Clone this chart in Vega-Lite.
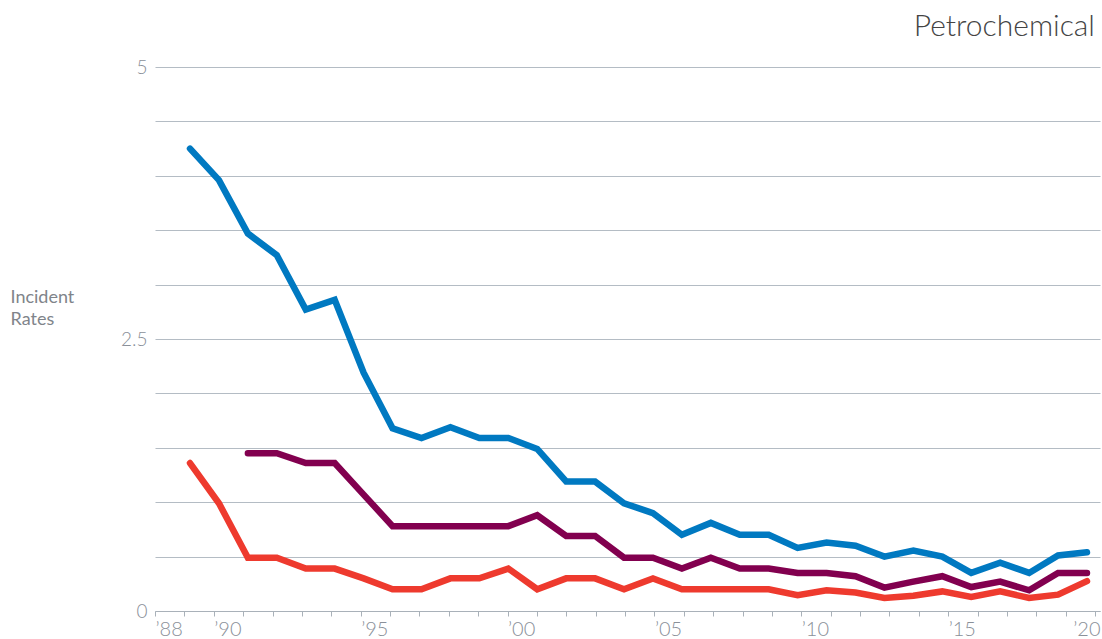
{
  "$schema": "https://vega.github.io/schema/vega-lite/v6.json",
  "width": 945,
  "height": 544,
  "autosize": {"type": "none"},
  "padding": {"left": 155, "top": 67, "right": 2, "bottom": 28},
  "background": "white",
  "config": {"view": {"stroke": null}, "font": "Lato"},
  "title": {"text": "Petrochemical", "anchor": "end", "orient": "top", "frame": "group", "fontSize": 30, "font": "Lato", "fontWeight": 300, "color": "#444444", "baseline": "bottom", "offset": 20, "dy": 34, "dx": -5},
  "data": {"values": [
    {"year": 1989, "series": "Total", "value": 4.25},
    {"year": 1990, "series": "Total", "value": 3.96},
    {"year": 1991, "series": "Total", "value": 3.47},
    {"year": 1992, "series": "Total", "value": 3.27},
    {"year": 1993, "series": "Total", "value": 2.77},
    {"year": 1994, "series": "Total", "value": 2.86},
    {"year": 1995, "series": "Total", "value": 2.19},
    {"year": 1996, "series": "Total", "value": 1.68},
    {"year": 1997, "series": "Total", "value": 1.59},
    {"year": 1998, "series": "Total", "value": 1.69},
    {"year": 1999, "series": "Total", "value": 1.59},
    {"year": 2000, "series": "Total", "value": 1.59},
    {"year": 2001, "series": "Total", "value": 1.49},
    {"year": 2002, "series": "Total", "value": 1.19},
    {"year": 2003, "series": "Total", "value": 1.19},
    {"year": 2004, "series": "Total", "value": 0.99},
    {"year": 2005, "series": "Total", "value": 0.9},
    {"year": 2006, "series": "Total", "value": 0.7},
    {"year": 2007, "series": "Total", "value": 0.81},
    {"year": 2008, "series": "Total", "value": 0.7},
    {"year": 2009, "series": "Total", "value": 0.7},
    {"year": 2010, "series": "Total", "value": 0.58},
    {"year": 2011, "series": "Total", "value": 0.63},
    {"year": 2012, "series": "Total", "value": 0.6},
    {"year": 2013, "series": "Total", "value": 0.5},
    {"year": 2014, "series": "Total", "value": 0.555},
    {"year": 2015, "series": "Total", "value": 0.5},
    {"year": 2016, "series": "Total", "value": 0.35},
    {"year": 2017, "series": "Total", "value": 0.445},
    {"year": 2018, "series": "Total", "value": 0.35},
    {"year": 2019, "series": "Total", "value": 0.51},
    {"year": 2020, "series": "Total", "value": 0.54},
    {"year": 1991, "series": "Restricted", "value": 1.45},
    {"year": 1992, "series": "Restricted", "value": 1.45},
    {"year": 1993, "series": "Restricted", "value": 1.36},
    {"year": 1994, "series": "Restricted", "value": 1.36},
    {"year": 1995, "series": "Restricted", "value": 1.07},
    {"year": 1996, "series": "Restricted", "value": 0.78},
    {"year": 1997, "series": "Restricted", "value": 0.78},
    {"year": 1998, "series": "Restricted", "value": 0.78},
    {"year": 1999, "series": "Restricted", "value": 0.78},
    {"year": 2000, "series": "Restricted", "value": 0.78},
    {"year": 2001, "series": "Restricted", "value": 0.88},
    {"year": 2002, "series": "Restricted", "value": 0.69},
    {"year": 2003, "series": "Restricted", "value": 0.69},
    {"year": 2004, "series": "Restricted", "value": 0.49},
    {"year": 2005, "series": "Restricted", "value": 0.49},
    {"year": 2006, "series": "Restricted", "value": 0.39},
    {"year": 2007, "series": "Restricted", "value": 0.49},
    {"year": 2008, "series": "Restricted", "value": 0.39},
    {"year": 2009, "series": "Restricted", "value": 0.39},
    {"year": 2010, "series": "Restricted", "value": 0.35},
    {"year": 2011, "series": "Restricted", "value": 0.35},
    {"year": 2012, "series": "Restricted", "value": 0.32},
    {"year": 2013, "series": "Restricted", "value": 0.215},
    {"year": 2014, "series": "Restricted", "value": 0.27},
    {"year": 2015, "series": "Restricted", "value": 0.32},
    {"year": 2016, "series": "Restricted", "value": 0.22},
    {"year": 2017, "series": "Restricted", "value": 0.27},
    {"year": 2018, "series": "Restricted", "value": 0.19},
    {"year": 2019, "series": "Restricted", "value": 0.35},
    {"year": 2020, "series": "Restricted", "value": 0.35},
    {"year": 1989, "series": "Days Away", "value": 1.36},
    {"year": 1990, "series": "Days Away", "value": 0.99},
    {"year": 1991, "series": "Days Away", "value": 0.49},
    {"year": 1992, "series": "Days Away", "value": 0.49},
    {"year": 1993, "series": "Days Away", "value": 0.39},
    {"year": 1994, "series": "Days Away", "value": 0.39},
    {"year": 1995, "series": "Days Away", "value": 0.3},
    {"year": 1996, "series": "Days Away", "value": 0.2},
    {"year": 1997, "series": "Days Away", "value": 0.2},
    {"year": 1998, "series": "Days Away", "value": 0.3},
    {"year": 1999, "series": "Days Away", "value": 0.3},
    {"year": 2000, "series": "Days Away", "value": 0.39},
    {"year": 2001, "series": "Days Away", "value": 0.2},
    {"year": 2002, "series": "Days Away", "value": 0.3},
    {"year": 2003, "series": "Days Away", "value": 0.3},
    {"year": 2004, "series": "Days Away", "value": 0.2},
    {"year": 2005, "series": "Days Away", "value": 0.3},
    {"year": 2006, "series": "Days Away", "value": 0.2},
    {"year": 2007, "series": "Days Away", "value": 0.2},
    {"year": 2008, "series": "Days Away", "value": 0.2},
    {"year": 2009, "series": "Days Away", "value": 0.2},
    {"year": 2010, "series": "Days Away", "value": 0.145},
    {"year": 2011, "series": "Days Away", "value": 0.19},
    {"year": 2012, "series": "Days Away", "value": 0.17},
    {"year": 2013, "series": "Days Away", "value": 0.12},
    {"year": 2014, "series": "Days Away", "value": 0.14},
    {"year": 2015, "series": "Days Away", "value": 0.18},
    {"year": 2016, "series": "Days Away", "value": 0.13},
    {"year": 2017, "series": "Days Away", "value": 0.18},
    {"year": 2018, "series": "Days Away", "value": 0.12},
    {"year": 2019, "series": "Days Away", "value": 0.15},
    {"year": 2020, "series": "Days Away", "value": 0.275}
  ]},
  "layer": [
    {
      "mark": {"type": "line", "strokeWidth": 6.5, "strokeCap": "round", "strokeJoin": "miter"},
      "encoding": {
        "x": {
          "field": "year", "type": "quantitative",
          "scale": {"domain": [1987.79, 2020.45], "nice": false, "zero": false},
          "axis": null
        },
        "y": {
          "field": "value", "type": "quantitative",
          "scale": {"domain": [0, 5], "nice": false},
          "axis": {
            "values": [0, 0.5, 1, 1.5, 2, 2.5, 3, 3.5, 4, 4.5, 5],
            "labelExpr": "datum.value == 0 ? '0' : datum.value == 2.5 ? '2.5' : datum.value == 5 ? '5' : ''",
            "labelOverlap": false,
            "labelFlush": false,
            "labelFontSize": 19,
            "labelFont": "Lato",
            "labelFontWeight": 300,
            "labelColor": "#8a9099",
            "labelPadding": 8,
            "domain": false,
            "ticks": false,
            "grid": true,
            "gridColor": "#b4bcc4",
            "gridWidth": 1.2,
            "title": ["Incident", "Rates"],
            "titleAngle": 0,
            "titleAlign": "left",
            "titleBaseline": "alphabetic",
            "titleX": -145,
            "titleY": 235,
            "titleFont": "Lato",
            "titleFontSize": 18,
            "titleFontWeight": "normal",
            "titleColor": "#80848a",
            "titleLineHeight": 22
          }
        },
        "color": {
          "field": "series", "type": "nominal",
          "scale": {"domain": ["Total", "Restricted", "Days Away"], "range": ["#0079c1", "#82004f", "#ee3a2e"]},
          "legend": null
        }
      }
    },
    {
      "mark": {"type": "point", "opacity": 0},
      "encoding": {
        "x": {
          "field": "year", "type": "quantitative",
          "scale": {"domain": [1988, 2020.17], "nice": false, "zero": false},
          "axis": {
            "title": null,
            "values": [1988,1989,1990,1991,1992,1993,1994,1995,1996,1997,1998,1999,2000,2001,2002,2003,2004,2005,2006,2007,2008,2009,2010,2011,2012,2013,2014,2015,2016,2017,2018,2019,2020],
            "format": "d",
            "labelExpr": "indexof([1988,1990,1995,2000,2005,2010,2015,2020], datum.value) >= 0 ? '’' + substring(datum.label, 2) : ''",
            "labelOverlap": false,
            "labelFlush": false,
            "labelAlign": {"condition": {"test": "datum.value == 2020", "value": "right"}, "value": "left"},
            "labelOffset": {"condition": {"test": "datum.value == 2020", "value": 5}, "value": 0},
            "labelFontSize": 20,
            "labelFont": "Lato",
            "labelFontWeight": 300,
            "labelColor": "#8a9099",
            "labelPadding": 3,
            "grid": false,
            "domainColor": "#a9b1b9",
            "domainWidth": 1.2,
            "tickColor": "#a9b1b9",
            "tickSize": 5,
            "tickWidth": 1
          }
        }
      }
    }
  ],
  "resolve": {"scale": {"x": "independent"}}
}
